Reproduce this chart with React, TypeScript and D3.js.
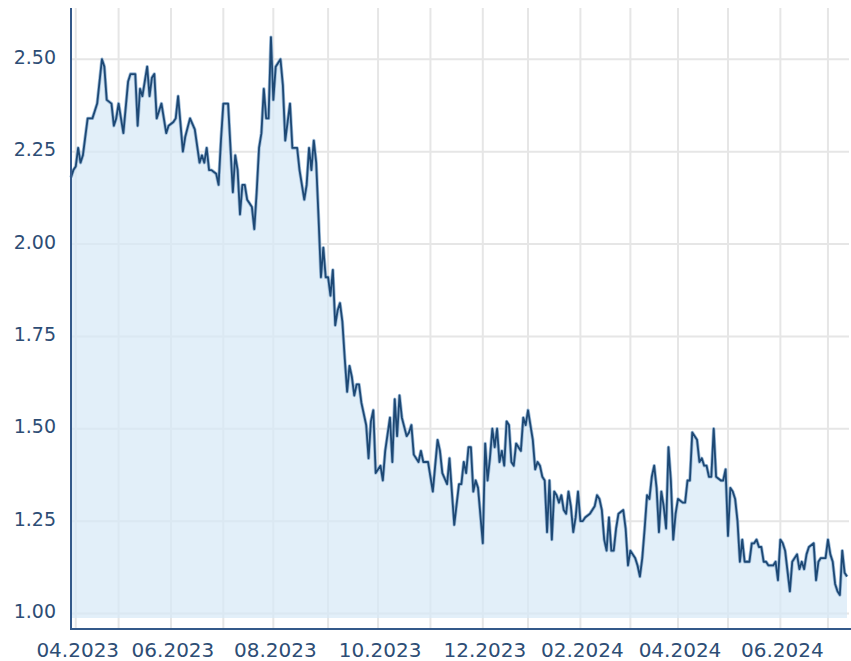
import React from "react";
import * as d3 from "d3";

// trading-day number (0 = 30.03.2023) and close price
const tradingDay = [
  0, 1, 2, 3, 4, 5, 7, 9, 10, 11, 13, 14, 15, 17, 18, 19, 20, 21, 22, 24, 25, 27, 28, 29, 30, 31, 32, 33, 34, 35, 36, 38,
  39, 40, 41, 43, 44, 45, 47, 48, 50, 52, 54, 55, 56, 57, 58, 59, 61, 62, 63, 64, 66, 68, 69, 70, 71, 72, 73, 74, 75, 76,
  77, 78, 79, 80, 81, 82, 83, 84, 85, 86, 88, 89, 90, 92, 93, 94, 95, 96, 98, 99, 100, 101, 102, 103, 104, 105, 106, 107,
  108, 109, 110, 111, 112, 113, 114, 115, 116, 117, 118, 119, 120, 121, 122, 124, 125, 126, 127, 128, 130, 131, 132, 134,
  135, 136, 137, 138, 139, 141, 142, 143, 144, 146, 147, 148, 150, 152, 153, 154, 155, 156, 158, 159, 160, 161, 163, 164,
  165, 166, 167, 168, 169, 170, 171, 173, 174, 175, 176, 177, 178, 179, 180, 181, 182, 183, 184, 185, 186, 187, 188, 189,
  190, 191, 192, 193, 194, 195, 196, 197, 198, 199, 200, 201, 202, 203, 204, 205, 206, 207, 208, 209, 210, 211, 212, 213,
  214, 215, 216, 218, 219, 220, 221, 222, 223, 224, 225, 226, 227, 228, 229, 230, 232, 233, 234, 235, 236, 237, 238, 239,
  240, 241, 242, 243, 244, 245, 246, 247, 248, 249, 250, 251, 252, 253, 254, 255, 257, 258, 259, 260, 261, 263, 264, 265,
  266, 267, 268, 269, 270, 271, 273, 274, 275, 276, 277, 278, 279, 280, 281, 282, 283, 284, 285, 286, 287, 288, 289, 290,
  291, 292, 293, 295, 296, 297, 298, 299, 300, 302, 303, 305, 306, 307, 308, 309, 310, 312, 313, 314, 315, 317, 318, 319,
  320, 321, 322, 323, 324, 325, 326,
];
const close = [
  2.18, 2.2, 2.21, 2.26, 2.22, 2.24, 2.34, 2.34, 2.36, 2.38, 2.5, 2.48, 2.39, 2.38, 2.32, 2.34, 2.38, 2.34, 2.3, 2.44, 2.46,
  2.46, 2.32, 2.42, 2.4, 2.44, 2.48, 2.4, 2.45, 2.46, 2.34, 2.38,
  2.34, 2.3, 2.32, 2.33, 2.34, 2.4, 2.25, 2.29, 2.34, 2.31, 2.22, 2.24, 2.22, 2.26, 2.2, 2.2, 2.19, 2.16, 2.28, 2.38, 2.38,
  2.14, 2.24, 2.2, 2.08, 2.16, 2.16, 2.12, 2.11, 2.1,
  2.04, 2.14, 2.26, 2.3, 2.42, 2.34, 2.34, 2.56, 2.39, 2.48, 2.5, 2.43, 2.28, 2.38, 2.26, 2.26, 2.26, 2.2, 2.12, 2.16, 2.26,
  2.2, 2.28, 2.22, 2.07, 1.91, 1.99, 1.91,
  1.91, 1.86, 1.93, 1.78, 1.82, 1.84, 1.79, 1.69, 1.6, 1.67, 1.64, 1.59, 1.62, 1.62, 1.57, 1.51, 1.42, 1.52, 1.55, 1.38,
  1.4, 1.36, 1.44, 1.53,
  1.41, 1.58, 1.48, 1.59, 1.53, 1.48, 1.49, 1.51, 1.43, 1.41, 1.44, 1.41, 1.41, 1.33, 1.4, 1.47, 1.44, 1.38, 1.35, 1.42,
  1.33, 1.24, 1.35, 1.35,
  1.41, 1.38, 1.45, 1.45, 1.33, 1.36, 1.34, 1.19, 1.46, 1.36, 1.42, 1.5, 1.45, 1.5, 1.41, 1.44, 1.4, 1.52, 1.51, 1.41, 1.4,
  1.46, 1.45, 1.44,
  1.53, 1.51, 1.55, 1.51, 1.47, 1.39, 1.41, 1.4, 1.37, 1.36, 1.22, 1.36, 1.2, 1.33, 1.32, 1.3, 1.32, 1.28, 1.27, 1.33, 1.29,
  1.22, 1.26, 1.33,
  1.25, 1.25, 1.26, 1.27, 1.28, 1.29, 1.32, 1.31, 1.28, 1.2, 1.17, 1.26, 1.17, 1.17, 1.23, 1.27, 1.28, 1.23, 1.13, 1.17,
  1.16, 1.15, 1.13, 1.1,
  1.15, 1.23, 1.32, 1.31, 1.37, 1.4, 1.34, 1.22, 1.33, 1.29, 1.23, 1.45, 1.36, 1.2, 1.27, 1.31, 1.3, 1.3, 1.36, 1.36, 1.49,
  1.47, 1.41, 1.42,
  1.4, 1.4, 1.37, 1.37, 1.5, 1.37, 1.36, 1.36, 1.39, 1.21, 1.34, 1.33, 1.31, 1.25, 1.14, 1.2, 1.14, 1.14, 1.14, 1.19, 1.19,
  1.2, 1.18, 1.18,
  1.14, 1.14, 1.13, 1.13, 1.14, 1.09, 1.2, 1.19, 1.17, 1.06, 1.14, 1.16, 1.12, 1.14, 1.12, 1.16, 1.18, 1.19, 1.09, 1.14,
  1.15, 1.15, 1.2, 1.16,
  1.14, 1.08, 1.06, 1.05, 1.17, 1.11, 1.1,
];

// months on the axis and their number of trading days
const months = [
  "04.2023", "05.2023", "06.2023", "07.2023", "08.2023", "09.2023", "10.2023", "11.2023",
  "12.2023", "01.2024", "02.2024", "03.2024", "04.2024", "05.2024", "06.2024", "07.2024",
];
const monthDays = [18, 22, 22, 21, 23, 21, 22, 22, 19, 22, 21, 20, 21, 22, 20];
const firstMonthDay = 2;
const yTicks = [1.0, 1.25, 1.5, 1.75, 2.0, 2.25, 2.5];

const W = 851;
const H = 661;
const left = 71;
const right = 849;
const top = 8;
const bottom = 629;
const font = "'DejaVu Sans', Verdana, sans-serif";

export default function App() {
  const data = tradingDay.map((d, i) => ({ d, v: close[i] }));

  const x = d3.scaleLinear().domain([0, 326]).range([left, 847]);
  const y = d3.scaleLinear().domain([1, 2.5]).range([613.5, 59.25]);
  const floor = 0.988;

  const monthStart = [firstMonthDay];
  monthDays.forEach((n, i) => monthStart.push(monthStart[i] + n));

  const line = d3
    .line<{ d: number; v: number }>()
    .x((p) => x(p.d))
    .y((p) => y(p.v));
  const area = d3
    .area<{ d: number; v: number }>()
    .x((p) => x(p.d))
    .y0(y(floor))
    .y1((p) => y(p.v));

  return (
    <div style={{ position: "absolute", left: 0, top: 0 }}>
      <svg width={W} height={H} style={{ display: "block", background: "#fff" }}>
        <g stroke="#e6e6e6" strokeWidth={2}>
          {yTicks.map((t) => (
            <line key={t} x1={left} x2={right} y1={y(t)} y2={y(t)} />
          ))}
          {monthStart.map((m) => (
            <line key={m} x1={x(m)} x2={x(m)} y1={top} y2={bottom} />
          ))}
        </g>

        <path d={area(data) ?? ""} fill="#d6e8f7" fillOpacity={0.7} />
        <path d={line(data) ?? ""} fill="none" stroke="#9dbbd8" strokeWidth={3.4} strokeLinejoin="round" />
        <path d={line(data) ?? ""} fill="none" stroke="#1d4874" strokeWidth={1.8} strokeLinejoin="round" />

        <line x1={left} x2={left} y1={top} y2={bottom} stroke="#34598a" strokeWidth={2} />
        <line x1={left - 1} x2={W} y1={bottom} y2={bottom} stroke="#34598a" strokeWidth={2} />

        <g fill="#2d4d75" fontFamily={font} fontSize={19}>
          {yTicks.map((t) => (
            <text key={t} x={56} y={y(t) - 1} textAnchor="end" dominantBaseline="middle">
              {d3.format(".2f")(t)}
            </text>
          ))}
        </g>
        <g fill="#2d4d75" fontFamily={font} fontSize={20}>
          {monthStart.map((m, i) =>
            i % 2 === 0 && i < months.length - 1 ? (
              <text key={m} x={x(m) + 2} y={657} textAnchor="middle">
                {months[i]}
              </text>
            ) : null
          )}
        </g>
      </svg>
    </div>
  );
}
